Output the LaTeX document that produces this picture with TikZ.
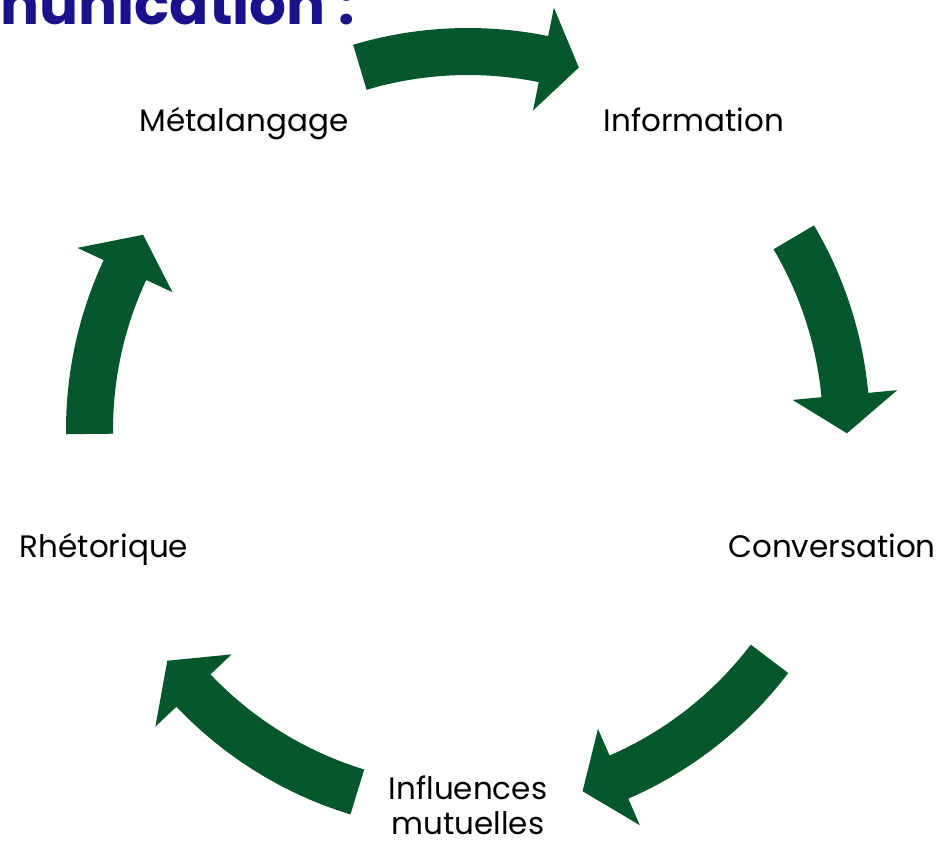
\documentclass[tikz,border=0pt]{standalone}
\usepackage{fontspec}
\setmainfont{Poppins}
\definecolor{cyclegreen}{RGB}{3,87,42}
\definecolor{titleblue}{RGB}{26,18,140}
\tikzset{
    cyclearrow/.style={fill=cyclegreen},
    stage/.style={font=\fontsize{31}{35}\selectfont, inner sep=0pt, anchor=base},
  }

\begin{document}
\begin{tikzpicture}[x=1pt,y=1pt]
				  %cadre : origine au centre du cercle
				  \useasboundingbox (-468,-414) rectangle (470,430);
				  %titre coupe en haut
				  \node[anchor=base east, inner sep=0pt, text=titleblue, font=\fontsize{58}{64}\selectfont\bfseries] (titre) at (-113,405) {nunication :};
				  %etapes
				  \node[stage] (meta) at (-224,298) {Métalangage};
				  \node[stage] (info) at (226,298) {Information};
				  \node[stage] (conv) at (364,-127) {Conversation};
				  \node[stage, align=center] (infl) at (0,-404) {Influences\\mutuelles};
				  \node[stage] (rhet) at (-364,-127) {Rhétorique};
				  %fleches : arc (355..402), pointe (326..431)
				  \fill[cyclearrow] (106.6:355) arc[start angle=106.6, end angle=78.5, radius=355] -- (78.5:326) -- (73:379) -- (78.5:431) -- (78.5:402) arc[start angle=78.5, end angle=106.6, radius=402] -- cycle;
				  \fill[cyclearrow] (30.6:355) arc[start angle=30.6, end angle=5.3, radius=355] -- (5.3:326) -- (-0.5:379) -- (5.3:431) -- (5.3:402) arc[start angle=5.3, end angle=30.6, radius=402] -- cycle;
				  \fill[cyclearrow] (-37.2:355) arc[start angle=-37.2, end angle=-66.5, radius=355] -- (-66.5:326) -- (-72.4:379) -- (-66.5:431) -- (-66.5:402) arc[start angle=-66.5, end angle=-37.2, radius=402] -- cycle;
				  \fill[cyclearrow] (-107:355) arc[start angle=-107, end angle=-136.5, radius=355] -- (-136.5:326) -- (-142.5:379) -- (-136.5:431) -- (-136.5:402) arc[start angle=-136.5, end angle=-107, radius=402] -- cycle;
				  \fill[cyclearrow] (180.6:355) arc[start angle=180.6, end angle=155, radius=355] -- (155:326) -- (149:379) -- (155:431) -- (155:402) arc[start angle=155, end angle=180.6, radius=402] -- cycle;
				  \end{tikzpicture}
\end{document}
